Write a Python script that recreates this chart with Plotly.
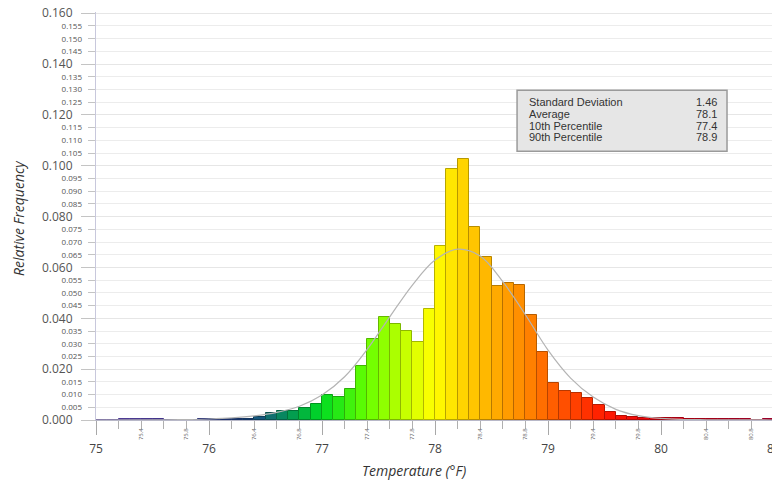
import numpy as np
import plotly.graph_objects as go

# ---- data ----
bin_starts = [round(75.0 + 0.1 * i, 1) for i in range(60)]
rel_freq = [
    0.0, 0.0, 0.0004, 0.0004, 0.0004, 0.0004, 0.0, 0.0, 0.0, 0.0004,   # 75.0-75.9
    0.0004, 0.0004, 0.0004, 0.0005, 0.0012, 0.0027, 0.0037, 0.0036, 0.0047, 0.0062,  # 76.x
    0.0099, 0.0089, 0.0121, 0.0213, 0.0317, 0.0406, 0.0376, 0.0349, 0.0308, 0.0435,  # 77.x
    0.0686, 0.0989, 0.1026, 0.0758, 0.0643, 0.0527, 0.0537, 0.0530, 0.0414, 0.0266,  # 78.x
    0.0147, 0.0116, 0.0105, 0.0086, 0.0059, 0.0033, 0.0016, 0.0010, 0.0009, 0.0008,  # 79.x
    0.0008, 0.0007, 0.0005, 0.0005, 0.0004, 0.0003, 0.0002, 0.0002, 0.0001, 0.0005,  # 80.x
]
curve_x = [75.0, 75.6, 75.8, 76.0, 76.2, 76.4, 76.6, 76.8, 77.0, 77.2, 77.4, 77.6, 77.8,
           78.0, 78.2, 78.4, 78.6, 78.8, 79.0, 79.2, 79.4, 79.6, 79.8, 80.0, 80.2, 80.4, 81.0]
curve_y = [0.0, 0.0001, 0.0002, 0.0004, 0.0008, 0.0016, 0.0030, 0.0054, 0.0098, 0.0170,
           0.0278, 0.0406, 0.0531, 0.0629, 0.0672, 0.0645, 0.0544, 0.0414, 0.0275, 0.0165,
           0.0090, 0.0042, 0.0017, 0.0006, 0.0002, 0.0001, 0.0]
stats_labels = ["Standard Deviation", "Average", "10th Percentile", "90th Percentile"]
stats_values = ["1.46", "78.1", "77.4", "78.9"]
major_x = [75, 76, 77, 78, 79, 80]
small_x = [75.4, 75.8, 76.4, 76.8, 77.4, 77.8, 78.4, 78.8, 79.4, 79.8, 80.4, 80.8]
major_y = [round(0.02 * i, 3) for i in range(9)]
minor_y = [round(0.005 * i, 3) for i in range(33) if i % 4 != 0]

# ---- colour ramp (style) ----
stops = [(75.0, '#7a5ad8'), (75.6, '#5a48c0'), (76.0, '#3040a0'), (76.4, '#1b4e86'),
         (76.7, '#049258'), (77.0, '#00dc22'), (77.4, '#66ff00'), (77.9, '#f0ff00'),
         (78.0, '#ffff00'), (78.3, '#ffcc00'), (78.8, '#ff8800'), (79.0, '#ff6600'),
         (79.5, '#ff1a00'), (80.0, '#e80010'), (81.0, '#d8003c')]

def hex2rgb(h):
    h = h.lstrip('#')
    return [int(h[i:i + 2], 16) for i in (0, 2, 4)]

def ramp(v):
    for (a, ca), (b, cb) in zip(stops[:-1], stops[1:]):
        if a <= v <= b:
            t = (v - a) / (b - a)
            c1, c2 = hex2rgb(ca), hex2rgb(cb)
            return [round(c1[k] + (c2[k] - c1[k]) * t) for k in range(3)]
    return hex2rgb(stops[-1][1])

centers = [b + 0.05 for b in bin_starts]
fills = ['rgb(%d,%d,%d)' % tuple(ramp(c)) for c in centers]
edges = ['rgb(%d,%d,%d)' % tuple(int(x * 0.72) for x in ramp(c)) for c in centers]

fig = go.Figure()
fig.add_trace(go.Bar(x=centers, y=rel_freq, width=0.1,
                     marker=dict(color=fills, line=dict(color=edges, width=1)),
                     hoverinfo='skip'))
fig.add_trace(go.Scatter(x=curve_x, y=curve_y, mode='lines',
                         line=dict(color='#b4b4b4', width=1.2, shape='spline'),
                         hoverinfo='skip'))
fig.add_trace(go.Scatter(x=[76], y=[0], xaxis='x2', yaxis='y2', mode='markers',
                         marker=dict(opacity=0), hoverinfo='skip'))

XR = [75, 80.982]
YR = [0, 0.1605]
fig.update_layout(
    width=772, height=480,
    margin=dict(l=96, r=0, t=12, b=60),
    paper_bgcolor='white', plot_bgcolor='white',
    showlegend=False, bargap=0,
    xaxis=dict(range=XR, tickvals=major_x, ticktext=[str(v) for v in major_x],
               ticks='outside', ticklen=14, tickcolor='#a8a8a8', tickwidth=1,
               showgrid=False, zeroline=False, showline=True, linecolor='#b8b8c8',
               tickfont=dict(family='Open Sans', size=12, color='#444'),
               ticklabelstandoff=4,
               minor=dict(dtick=0.2, tick0=75, ticks='outside', ticklen=8,
                          tickcolor='#b0b0b0', showgrid=False)),
    xaxis2=dict(range=XR, overlaying='x', anchor='y', side='bottom',
                tickvals=small_x, ticktext=[str(v) for v in small_x], tickangle=-90,
                ticks='', showgrid=False, zeroline=False, showline=False,
                tickfont=dict(family='Open Sans', size=6, color='#666'),
                ticklabelstandoff=6),
    yaxis=dict(range=YR, tickvals=major_y, ticktext=['%.3f' % v for v in major_y],
               ticks='outside', ticklen=14, tickcolor='#c4c4c4',
               showgrid=True, gridcolor='#e6e6e6', zeroline=False,
               showline=True, linecolor='#c8c8dc',
               tickfont=dict(family='Open Sans', size=12, color='#555'),
               ticklabelstandoff=6,
               minor=dict(tickvals=minor_y, ticks='outside', ticklen=7,
                          tickcolor='#c4c4c4', showgrid=True, gridcolor='#ececec')),
    yaxis2=dict(range=YR, overlaying='y', anchor='x', side='left',
                tickvals=minor_y, ticktext=['%.3f' % v for v in minor_y],
                ticks='', showgrid=False, zeroline=False, showline=False,
                tickfont=dict(family='Open Sans', size=8, color='#555'),
                ticklabelstandoff=13),
)

# axis titles
fig.add_annotation(text='<i>Temperature (°F)</i>', xref='paper', yref='paper',
                   x=(414 - 96) / 676, y=0, yshift=-50, yanchor='middle', xanchor='center',
                   showarrow=False, font=dict(family='Open Sans', size=14, color='#333'))
fig.add_annotation(text='<i>Relative Frequency</i>', xref='paper', yref='paper',
                   x=(18 - 96) / 676, y=0.495, xanchor='center', yanchor='middle',
                   showarrow=False, textangle=-90,
                   font=dict(family='Open Sans', size=14, color='#333'))
# cut-off 81 label at right edge (tick at 81 lies just past the window)
fig.add_annotation(text='81', xref='paper', yref='paper', x=(774 - 96) / 676, y=0,
                   yshift=-28, xanchor='center', yanchor='middle', showarrow=False,
                   font=dict(family='Open Sans', size=12, color='#444'))

# stats box
fig.add_shape(type='rect', xref='x', yref='y', x0=78.726, x1=80.584, y0=0.1057, y1=0.1297,
              fillcolor='#e6e6e6', line=dict(color='#9a9a9a', width=1.5), layer='above')
row_y = [0.1250, 0.1204, 0.1158, 0.1113]
for lab, val, yy in zip(stats_labels, stats_values, row_y):
    fig.add_annotation(text=lab, xref='x', yref='y', x=78.814, y=yy, xanchor='left',
                       showarrow=False, font=dict(family='Liberation Sans', size=11, color='#333'))
    fig.add_annotation(text=val, xref='x', yref='y', x=80.51, y=yy, xanchor='right',
                       showarrow=False, font=dict(family='Liberation Sans', size=11, color='#333'))

fig.write_html('out.html')
